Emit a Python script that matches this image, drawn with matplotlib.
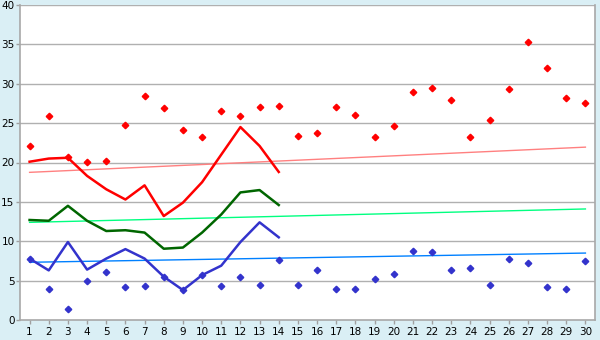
import matplotlib
matplotlib.use("Agg")
import matplotlib.pyplot as plt
import numpy as np

days = list(range(1, 31))
max_pts = [22.1, 25.9, 20.7, 20.1, 20.2, 24.7, 28.4, 26.9, 24.1, 23.2,
           26.6, 25.9, 27.1, 27.2, 23.4, 23.8, 27.0, 26.0, 23.3, 24.6,
           28.9, 29.5, 27.9, 23.3, 25.4, 29.3, 35.3, 32.0, 28.2, 27.5]
min_pts = [7.8, 3.9, 1.35, 4.9, 6.05, 4.15, 4.3, 5.5, 3.8, 5.7,
           4.3, 5.5, 4.4, 7.6, 4.4, 6.4, 3.9, 3.9, 5.2, 5.9,
           8.7, 8.6, 6.3, 6.6, 4.5, 7.8, 7.3, 4.15, 4.0, 7.45]
line_days = list(range(1, 15))
red_line = [20.1, 20.5, 20.6, 18.3, 16.6, 15.3, 17.1, 13.2, 14.9, 17.5, 21.0, 24.5, 22.1, 18.8]
green_line = [12.7, 12.6, 14.5, 12.6, 11.3, 11.4, 11.1, 9.05, 9.2, 11.1, 13.4, 16.2, 16.5, 14.6]
blue_line = [7.8, 6.3, 9.9, 6.4, 7.8, 9.0, 7.8, 5.5, 3.8, 5.7, 6.9, 9.9, 12.4, 10.5]
trend_days = [1, 30]
red_trend = [18.75, 21.95]
green_trend = [12.4, 14.1]
blue_trend = [7.33, 8.5]
y_ticks = [0, 5, 10, 15, 20, 25, 30, 35, 40]

bg = '#daeff5'
fig = plt.figure(figsize=(6, 3.4), dpi=100, facecolor=bg)
ax = fig.add_axes([20/600, 20/340, 575/600, 315/340])
ax.set_facecolor('white')

for y in y_ticks[1:]:
    ax.axhline(y, color='#b0b0b0', lw=1, zorder=1)

ax.plot(trend_days, red_trend, color='#ff8080', lw=1, zorder=2)
ax.plot(trend_days, green_trend, color='#00ff80', lw=1, zorder=2)
ax.plot(trend_days, blue_trend, color='#0080ff', lw=1, zorder=2)

ax.plot(line_days, red_line, color='#ff0000', lw=1.8, zorder=3)
ax.plot(line_days, green_line, color='#006600', lw=1.8, zorder=3)
ax.plot(line_days, blue_line, color='#3333cc', lw=1.8, zorder=3)

ax.plot(days, max_pts, linestyle='none', marker='D', ms=3.3, color='#ff0000', mec='#ff0000', zorder=4)
ax.plot(days, min_pts, linestyle='none', marker='D', ms=3.3, color='#3333cc', mec='#3333cc', zorder=4)

ax.set_xlim(0.5, 30.5)
ax.set_ylim(0, 40)
ax.set_yticks(y_ticks)
ax.set_xticks(days)
ax.tick_params(axis='both', labelsize=7.5, length=3, width=1, color='#a0a0a0', labelcolor='black')
ax.tick_params(axis='y', pad=1)
ax.tick_params(axis='x', pad=2)
for s in ['left', 'bottom', 'right']:
    ax.spines[s].set_color('#a8a8a8')
    ax.spines[s].set_linewidth(1.2)
ax.spines['top'].set_visible(False)

fig.savefig('out.png', dpi=100, facecolor=bg)
